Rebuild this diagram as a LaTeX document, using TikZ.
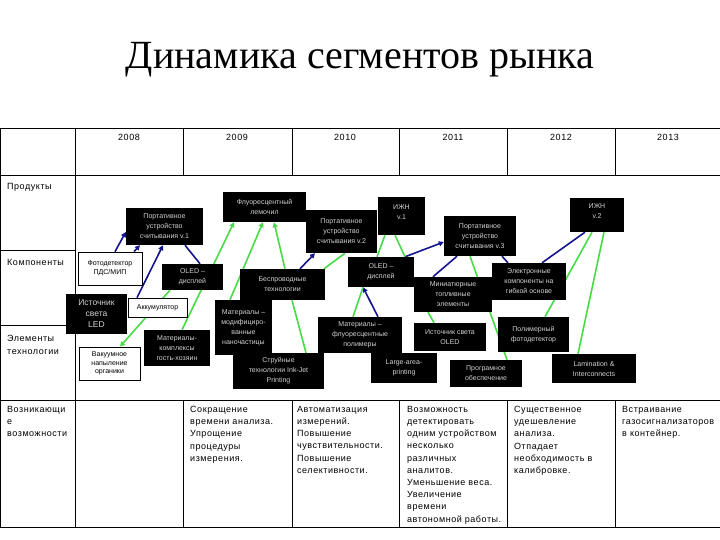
\documentclass[tikz,border=0pt]{standalone}
\usepackage{fontspec}
\setmainfont{Liberation Sans}
\newfontfamily\titlefont{Liberation Serif}
\newfontfamily\tabfont[LetterSpace=6]{Liberation Sans}
\usetikzlibrary{arrows.meta,backgrounds}
\definecolor{navy}{RGB}{20,20,140}
\definecolor{lgreen}{RGB}{70,220,70}
\definecolor{boxtext}{RGB}{210,210,210}
\begin{document}
\begin{tikzpicture}[x=1pt,y=-1pt,
  blk/.style={fill=black,text=boxtext,font=\fontsize{7}{10}\selectfont,align=center,inner sep=1pt},
  wht/.style={fill=white,draw=black,line width=0.7pt,text=black,font=\fontsize{7}{8.5}\selectfont,align=center,inner sep=1pt},
  bl/.style={draw=navy,line width=1.6pt},
  gr/.style={draw=lgreen,line width=1.6pt},
  arr/.style={-{Triangle[length=5pt,width=5pt]}},
  tline/.style={draw=black,line width=0.8pt},
  lab/.style={font=\tabfont\fontsize{9}{12.2}\selectfont,anchor=north west,align=left,inner sep=0pt},
  yr/.style={font=\tabfont\fontsize{9}{11}\selectfont},
]
\useasboundingbox (0,0) rectangle (720,540);

% title
\node[font=\titlefont\fontsize{40}{44}\selectfont,anchor=base] (title) at (360,69) {Динамика сегментов рынка};

% table
\draw[tline] (0,128) -- (720,128);
\draw[tline] (0,175) -- (720,175);
\draw[tline] (0,400) -- (720,400);
\draw[tline] (0,527) -- (720,527);
\draw[tline] (0.5,128) -- (0.5,527);
\draw[tline] (75,128) -- (75,527);
\foreach \x in {183,292,399,507,615} {
  \draw[tline] (\x,128) -- (\x,175);
  \draw[tline] (\x,400) -- (\x,527);
}
\draw[tline] (0,250) -- (75,250);
\draw[tline] (0,325) -- (75,325);

% years
\node[yr] (y08) at (129,137) {2008};
\node[yr] (y09) at (237,137) {2009};
\node[yr] (y10) at (345,137) {2010};
\node[yr] (y11) at (453,137) {2011};
\node[yr] (y12) at (561,137) {2012};
\node[yr] (y13) at (668,137) {2013};

% row labels
\node[lab] (lprod) at (7,183) {Продукты};
\node[lab] (lcomp) at (7,259) {Компоненты};
\node[lab,font=\tabfont\fontsize{9}{13.5}\selectfont] (lelem) at (7,335) {Элементы\\технологии};
\node[lab] (lvoz) at (7,406) {Возникающи\\е\\возможности};

% bottom row texts
\node[lab] (t09) at (190,406) {Сокращение\\времени анализа.\\Упрощение\\процедуры\\измерения.};
\node[lab] (t10) at (297,406) {Автоматизация\\измерений.\\Повышение\\чувствительности.\\Повышение\\селективности.};
\node[lab] (t11) at (407,406) {Возможность\\детектировать\\одним устройством\\несколько\\различных\\аналитов.\\Уменьшение веса.\\Увеличение\\времени\\автономной работы.};
\node[lab] (t12) at (514,406) {Существенное\\удешевление\\анализа.\\Отпадает\\необходимость в\\калибровке.};
\node[lab] (t13) at (622,406) {Встраивание\\газосигнализаторов\\в контейнер.};

% boxes
\node[blk,minimum width=77,minimum height=37] (pv1) at (164.5,226.5) {Портативное\\устройство\\считывания v.1};
\node[blk,minimum width=83,minimum height=30] (flu) at (264.5,207) {Флуоресцентный\\лемочил};
\node[blk,minimum width=71,minimum height=43] (pv2) at (341.5,231.5) {Портативное\\устройство\\считывания v.2};
\node[blk,minimum width=47,minimum height=38,text depth=8pt] (izh1) at (401.5,216) {ИЖН\\v.1};
\node[blk,minimum width=72,minimum height=40] (pv3) at (480,236) {Портативное\\устройство\\считывания v.3};
\node[blk,minimum width=54,minimum height=34,text depth=8pt] (izh2) at (597,215) {ИЖН\\v.2};
\node[blk,minimum width=74,minimum height=37] (elec) at (529,281.5) {Электронные\\компоненты на\\гибкой основе};
\node[blk,minimum width=78,minimum height=35] (mini) at (453,294.5) {Миниатюрные\\топливные\\элементы};
\node[blk,minimum width=66,minimum height=30] (oledm) at (381,272) {OLED –\\дисплей};
\node[blk,minimum width=85,minimum height=31] (bespr) at (282.5,284.5) {Беспроводные\\технологии};
\node[blk,minimum width=61,minimum height=26] (oledl) at (192.5,277) {OLED –\\дисплей};
\node[blk,minimum width=61,minimum height=40,font=\fontsize{8.5}{11}\selectfont] (led) at (96.5,314) {Источник\\света\\LED};
\node[wht,minimum width=59,minimum height=19] (akk) at (157.5,307.5) {Аккумулятор};
\node[wht,minimum width=64,minimum height=33] (foto) at (110,268.5) {Фотодетектор\\ПДС/МИП};
\node[wht,minimum width=61,minimum height=33] (vak) at (109.5,363.5) {Вакуумное\\напыление\\органики};
\node[blk,minimum width=66,minimum height=36] (mgh) at (177,348) {Материалы-\\комплексы\\гость-хозяин};
\node[blk,minimum width=57,minimum height=55] (mnano) at (243.5,327.5) {Материалы –\\модифициро-\\ванные\\наночастицы};
\node[blk,minimum width=91,minimum height=36] (ink) at (278.5,371) {Струйные\\технологии Ink-Jet\\Printing};
\node[blk,minimum width=84,minimum height=36] (mflu) at (360,335) {Материалы –\\флуоресцентные\\полимеры};
\node[blk,minimum width=66,minimum height=30] (lap) at (404,368) {Large-area-\\printing};
\node[blk,minimum width=72,minimum height=28] (isol) at (450,337) {Источник света\\OLED};
\node[blk,minimum width=72,minimum height=27] (prog) at (486,373.5) {Програмное\\обеспечение};
\node[blk,minimum width=71,minimum height=35] (poly) at (533.5,334.5) {Полимерный\\фотодетектор};
\node[blk,minimum width=84,minimum height=29] (lam) at (594,368.5) {Lamination \&\\Interconnects};

% connectors
\begin{scope}[on background layer]
\fill[white] (0,0) rectangle (720,540);
% blue
\draw[bl,arr] ([xshift=5]foto.north) -- ([yshift=-5.5]pv1.west);
\draw[bl,arr] ([xshift=24]foto.north) -- ([xshift=-24.5]pv1.south);
\draw[bl,arr] ([xshift=-20.5]akk.north) -- ([xshift=-1.5]pv1.south);
\draw[bl] ([xshift=7.5]oledl.north) -- ([xshift=20.5]pv1.south);
\draw[bl,arr] ([xshift=17.5]bespr.north) -- ([xshift=-26.5]pv2.south);
\draw[bl,arr] ([xshift=24]oledm.north) -- ([yshift=-6]pv3.west);
\draw[bl,arr] ([xshift=18]mflu.north) -- ([xshift=-18]oledm.south);
\draw[bl] ([xshift=-20]mini.north) -- ([xshift=-23]pv3.south);
\draw[bl] ([xshift=22]pv3.south) -- ([xshift=-21]elec.north);
\draw[bl] ([xshift=13]elec.north) -- ([xshift=-12]izh2.south);
% green
\draw[gr,arr] ([xshift=-22.5]oledl.south) -- ([xshift=10.5]vak.north);
\draw[gr,arr] ([xshift=5]mgh.north) -- ([xshift=-30.5]flu.south);
\draw[gr,arr] ([xshift=-13.5]mnano.north) -- ([xshift=-1.5]flu.south);
\draw[gr,arr] ([xshift=2.5]bespr.north) -- ([xshift=9.5]flu.south);
\draw[gr] ([xshift=27.5]ink.north) -- ([xshift=9.5]bespr.south);
\draw[gr] ([xshift=41.5]bespr.north) -- ([xshift=3.5]pv2.south);
\draw[gr] ([xshift=-4]oledm.north) -- ([xshift=-16.5]izh1.south);
\draw[gr] ([xshift=24]oledm.north) -- ([xshift=-6.5]izh1.south);
\draw[gr] ([xshift=-7]mflu.north) -- ([xshift=-18]oledm.south);
\draw[gr] ([xshift=-25]mini.south) -- ([xshift=-16]isol.north);
\draw[gr] ([xshift=-10]pv3.south) -- ([xshift=21]prog.north);
\draw[gr] ([xshift=11.5]poly.north) -- ([xshift=-5]izh2.south);
\draw[gr] ([xshift=-16]lam.north) -- ([xshift=7]izh2.south);
\end{scope}
\end{tikzpicture}
\end{document}
